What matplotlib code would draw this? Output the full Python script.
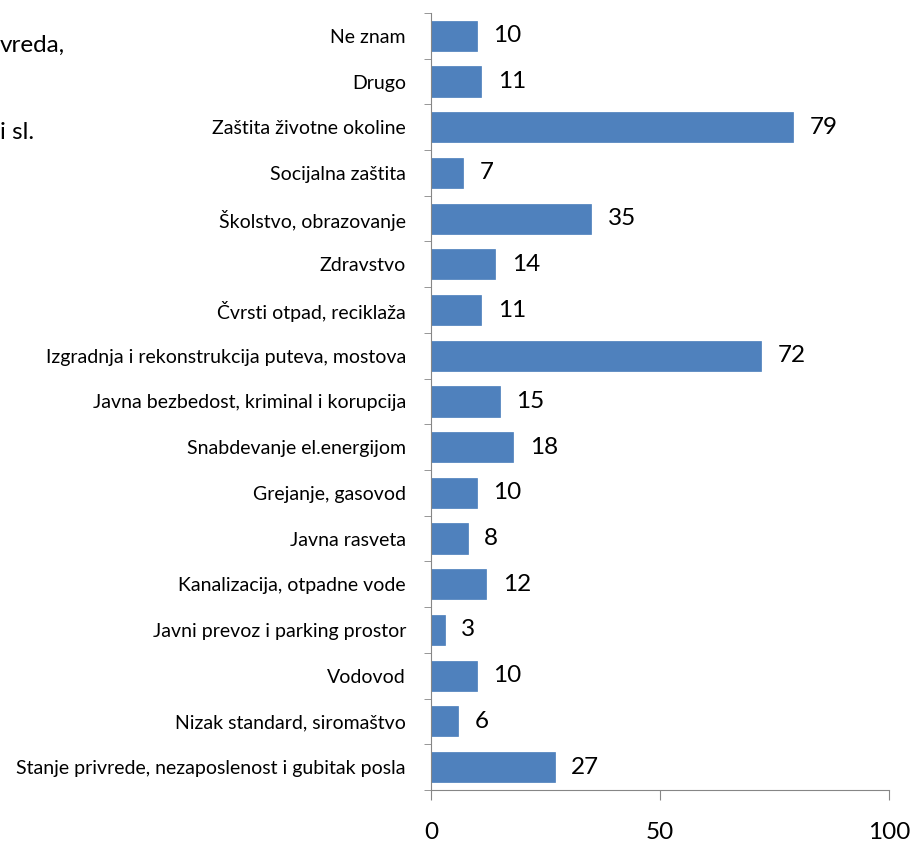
import numpy as np
import matplotlib.pyplot as plt

# categories listed bottom to top
categories = [
    "Stanje privrede, nezaposlenost i gubitak posla",
    "Nizak standard, siromaštvo",
    "Vodovod",
    "Javni prevoz i parking prostor",
    "Kanalizacija, otpadne vode",
    "Javna rasveta",
    "Grejanje, gasovod",
    "Snabdevanje el.energijom",
    "Javna bezbedost, kriminal i korupcija",
    "Izgradnja i rekonstrukcija puteva, mostova",
    "Čvrsti otpad, reciklaža",
    "Zdravstvo",
    "Školstvo, obrazovanje",
    "Socijalna zaštita",
    "Zaštita životne okoline",
    "Drugo",
    "Ne znam",
]
values = [27, 6, 10, 3, 12, 8, 10, 18, 15, 72, 11, 14, 35, 7, 79, 11, 10]
xticks = [0, 50, 100]

plt.rcParams['font.family'] = ['Lato', 'DejaVu Sans']

fig = plt.figure(figsize=(9.16, 8.42), dpi=100)
ax = fig.add_axes([0.4705, 0.0618, 0.5, 0.9228])

y = np.arange(len(categories))
ax.barh(y, values, height=0.66, color='#4F81BD', edgecolor='#4A7EBB', linewidth=0.5)

for yi, v in zip(y, values):
    ax.annotate(str(v), (v, yi), xytext=(12, 0), textcoords='offset points',
                va='center', ha='left', fontsize=17.5, color='black')

ax.set_xlim(0, 100)
ax.set_ylim(-0.5, len(categories) - 0.5)
ax.set_xticks(xticks)
ax.set_xticklabels([str(t) for t in xticks], fontsize=17.5)
ax.set_yticks(y)
ax.set_yticklabels(categories, fontsize=14)
ax.set_yticks(np.arange(-0.5, len(categories), 1), minor=True)
ax.tick_params(axis='y', which='major', length=0, pad=18)
ax.tick_params(axis='y', which='minor', length=5, color='#868686', direction='out')
ax.tick_params(axis='x', length=7, color='#868686', direction='out', pad=16)

for s in ['top', 'right']:
    ax.spines[s].set_visible(False)
for s in ['left', 'bottom']:
    ax.spines[s].set_color('#868686')

# cropped text fragments from neighbouring slide content
fig.text(0.0, 0.946, "vreda,", fontsize=17.5, va='center', ha='left')
fig.text(0.0, 0.843, "i sl.", fontsize=17.5, va='center', ha='left')

fig.savefig('out.png', dpi=100)
